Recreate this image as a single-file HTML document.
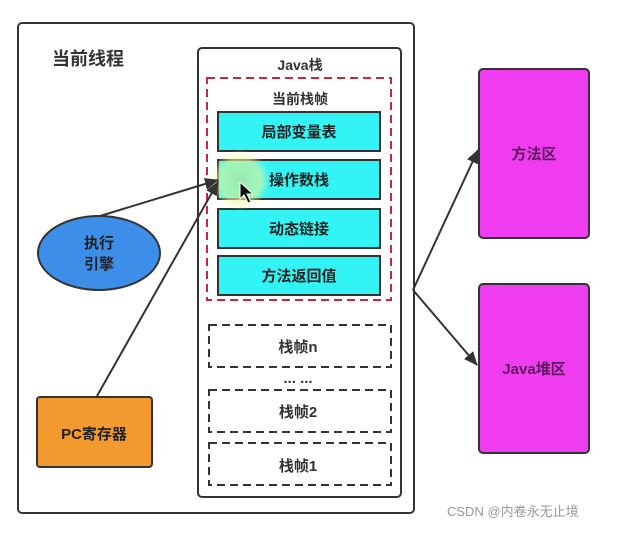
<!DOCTYPE html>
<html><head><meta charset="utf-8"><style>
body{margin:0;background:#fff;}
text{font-family:"Liberation Sans","Noto Sans CJK SC",sans-serif;font-weight:bold;}
</style></head><body>
<svg width="618" height="528" viewBox="0 0 618 528" xmlns="http://www.w3.org/2000/svg">
<defs>
<marker id="a" markerWidth="14" markerHeight="12" refX="13" refY="6" orient="auto" markerUnits="userSpaceOnUse"><path d="M0,0 L14,6 L0,12 Z" fill="#333"/></marker>
<radialGradient id="g"><stop offset="0" stop-color="#9fe8a8" stop-opacity="0.9"/><stop offset="0.7" stop-color="#e8f59a" stop-opacity="0.6"/><stop offset="1" stop-color="#fff8a0" stop-opacity="0"/></radialGradient>
</defs>
<rect x="18" y="23" width="396" height="490" rx="4" fill="#fff" stroke="#333" stroke-width="2"/>
<text x="52" y="65" font-size="18" fill="#333">当前线程</text>
<rect x="198" y="48" width="203" height="449" rx="4" fill="#fff" stroke="#333" stroke-width="2"/>
<text x="300" y="70" font-size="14" fill="#333" text-anchor="middle">Java栈</text>
<rect x="207" y="78" width="184" height="222" fill="none" stroke="#c8283c" stroke-width="2" stroke-dasharray="8,5"/>
<text x="300" y="104" font-size="14" fill="#333" text-anchor="middle">当前栈帧</text>
<g fill="#33f4f4" stroke="#333" stroke-width="2">
<rect x="218" y="112" width="162" height="39"/>
<rect x="218" y="160" width="162" height="39"/>
<rect x="218" y="209" width="162" height="39"/>
<rect x="218" y="256" width="162" height="39"/>
</g>
<circle cx="240" cy="180" r="30" fill="url(#g)"/>
<g font-size="15" fill="#222" text-anchor="middle">
<text x="299" y="137">局部变量表</text>
<text x="299" y="185">操作数栈</text>
<text x="299" y="234">动态链接</text>
<text x="299" y="281">方法返回值</text>
</g>
<path d="M240,182 l0,17 l4,-4 l4,8 l3,-1 l-4,-8 l6,0 Z" fill="#111" stroke="#fff" stroke-width="1"/>
<g fill="none" stroke="#333" stroke-width="2" stroke-dasharray="8,5">
<rect x="209" y="325" width="182" height="42"/>
<rect x="209" y="390" width="182" height="42"/>
<rect x="209" y="443" width="182" height="42"/>
</g>
<g font-size="15" fill="#333" text-anchor="middle">
<text x="298" y="352">栈帧n</text>
<text x="298" y="383">... ...</text>
<text x="298" y="417">栈帧2</text>
<text x="298" y="471">栈帧1</text>
</g>
<ellipse cx="99" cy="253" rx="61" ry="37" fill="#3d8ee8" stroke="#333" stroke-width="2"/>
<text x="99" y="248" font-size="15" fill="#222" text-anchor="middle">执行</text>
<text x="99" y="269" font-size="15" fill="#222" text-anchor="middle">引擎</text>
<rect x="37" y="397" width="115" height="70" rx="3" fill="#f39a2e" stroke="#333" stroke-width="2"/>
<text x="94" y="439" font-size="15" fill="#222" text-anchor="middle">PC寄存器</text>
<g stroke="#333" stroke-width="2" marker-end="url(#a)">
<line x1="100" y1="216" x2="218" y2="180"/>
<line x1="97" y1="396" x2="218" y2="182"/>
<line x1="413" y1="290" x2="478" y2="150"/>
<line x1="413" y1="290" x2="477" y2="365"/>
</g>
<rect x="479" y="69" width="110" height="169" rx="4" fill="#f03cf0" stroke="#333" stroke-width="2"/>
<text x="534" y="159" font-size="15" fill="#5a1a5a" text-anchor="middle">方法区</text>
<rect x="479" y="284" width="110" height="169" rx="4" fill="#f03cf0" stroke="#333" stroke-width="2"/>
<text x="534" y="374" font-size="15" fill="#5a1a5a" text-anchor="middle">Java堆区</text>
<text x="447" y="516" font-size="13" fill="#999" style="font-weight:normal">CSDN @内卷永无止境</text>
</svg>
</body></html>
